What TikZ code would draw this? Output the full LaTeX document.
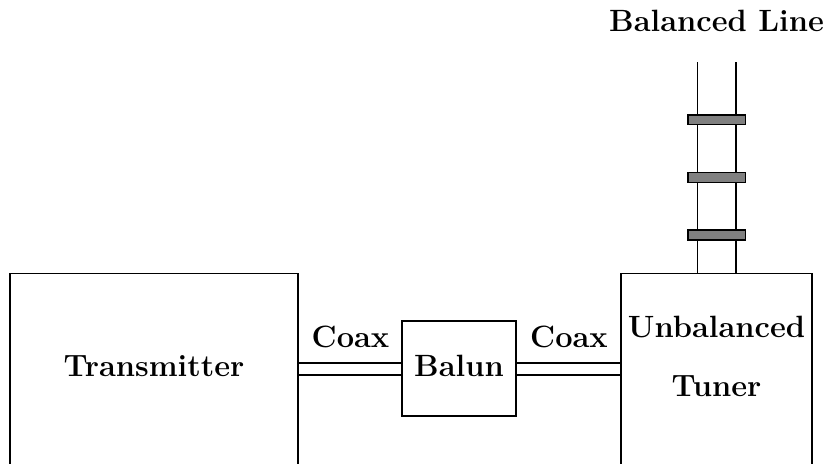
\documentclass[tikz,border=0pt]{standalone}
\usetikzlibrary{calc}
\begin{document}
\begin{tikzpicture}[x=0.5pt,y=0.5pt,line width=0.6pt,
  box/.style 2 args={draw,inner sep=0,minimum width=#1*0.5pt,minimum height=#2*0.5pt},
  lbl/.style={inner sep=0,anchor=base,font=\fontsize{15.4}{18}\selectfont\bfseries},
  spacer/.style={draw,fill=black!50,line width=0.6pt}]
\clip (0,0) rectangle (831,464);
% boxes
\node[box={288}{251},anchor=north] (tx) at (154,191) {};
\node[box={114}{95}] (balun) at (459,95.5) {};
\node[box={191}{251},anchor=north] (tuner) at (716.5,191) {};
% labels
\node[lbl] (txl) at (154,87.3) {Transmitter};
\node[lbl] (bal) at (459,87.3) {Balun};
\node[lbl] (ub) at (716.5,126) {Unbalanced};
\node[lbl] (tn) at (716.5,67.3) {Tuner};
\node[lbl] (c1l) at (350.5,116.3) {Coax};
\node[lbl] (c2l) at (569,116.3) {Coax};
\node[lbl] (bll) at (716.5,432.3) {Balanced Line};
% coax
\coordinate (hu) at (0,101);
\coordinate (hl) at (0,89);
\draw (tx.east |- hu) -- (balun.west |- hu);
\draw (tx.east |- hl) -- (balun.west |- hl);
\draw (balun.east |- hu) -- (tuner.west |- hu);
\draw (balun.east |- hl) -- (tuner.west |- hl);
% balanced line
\coordinate (la) at (697.7,402);
\coordinate (lb) at (736,402);
\draw (tuner.north -| la) -- (la);
\draw (tuner.north -| lb) -- (lb);
\draw[spacer] (688,339.3) rectangle (745.7,349);
\draw[spacer] (688,281.7) rectangle (745.7,291.3);
\draw[spacer] (688,224) rectangle (745.7,234);
\end{tikzpicture}
\end{document}
